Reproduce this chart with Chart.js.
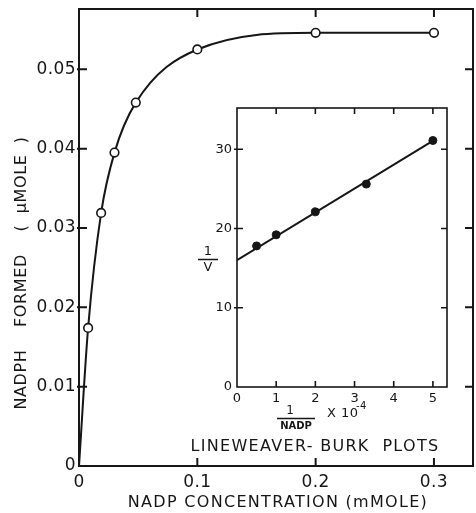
<!DOCTYPE html>
<html lang="en">
<head>
<meta charset="UTF-8">
<title>NADPH formed vs NADP concentration</title>
<script src="https://cdn.jsdelivr.net/npm/chart.js"></script>
<style>
  body { margin: 0; background: #fff; }
  #wrap { position: relative; width: 476px; height: 513px; }
  #mainChart { position: absolute; left: 0; top: 0; }
  #lbChart { position: absolute; left: 190px; top: 100px; }
</style>
</head>
<body>
<div id="wrap">
  <canvas id="mainChart" width="476" height="513"></canvas>
  <canvas id="lbChart" width="276" height="360"></canvas>
</div>
<script>
// main plot: NADPH formed (umole) against NADP concentration (mM)
const nadpConc = [0.0077, 0.0187, 0.030, 0.048, 0.1, 0.2, 0.3];
const nadphFormed = [0.0174, 0.0319, 0.0395, 0.0458, 0.0525, 0.0546, 0.0546];
const mainXTicks = [0, 0.1, 0.2, 0.3];
const mainYTicks = [0, 0.01, 0.02, 0.03, 0.04, 0.05];

// inset: Lineweaver-Burk plot, 1/NADP (x 10^-4) against 1/v
const lbInvS = [0.5, 1, 2, 3.3, 5];
const lbInvV = [17.8, 19.2, 22.1, 25.6, 31.1];
const lbFitX = [0, 5.05];
const lbFitY = [16.0, 31.2];
const lbXTicks = [0, 1, 2, 3, 4, 5];
const lbYTicks = [0, 10, 20, 30];

const ink = '#161616';
const face = '"DejaVu Sans", sans-serif';

// keep the plot area exactly where the layout puts it (no room for overhanging labels)
function noOverhang(s) {
  s.paddingLeft = 0; s.paddingRight = 0;
  s.paddingTop = 0; s.paddingBottom = 0;
}

// box around the plot area with inward tick marks on all four sides
function frameTicks(o) {
  return {
    id: 'frameTicks',
    beforeDraw(chart) {
      chart.ctx.letterSpacing = o.spacing;
    },
    beforeDatasetsDraw(chart) {
      const { ctx, chartArea: a, scales: { x, y } } = chart;
      ctx.save();
      ctx.strokeStyle = ink;
      ctx.lineWidth = o.width;
      ctx.strokeRect(a.left, a.top, a.right - a.left, a.bottom - a.top);
      ctx.beginPath();
      x.ticks.forEach(t => {
        if (t.value === 0) return;
        const px = x.getPixelForValue(t.value);
        ctx.moveTo(px, a.bottom); ctx.lineTo(px, a.bottom - o.len);
        ctx.moveTo(px, a.top); ctx.lineTo(px, a.top + o.len);
      });
      y.ticks.forEach(t => {
        if (t.value === 0) return;
        const py = y.getPixelForValue(t.value);
        ctx.moveTo(a.left - o.out, py); ctx.lineTo(a.left + o.len, py);
        ctx.moveTo(a.right, py); ctx.lineTo(a.right - o.len, py);
      });
      ctx.stroke();
      ctx.restore();
    }
  };
}

const mainLabels = {
  id: 'mainLabels',
  afterDraw(chart) {
    const ctx = chart.ctx;
    ctx.save();
    ctx.fillStyle = ink;
    ctx.textAlign = 'center';
    ctx.textBaseline = 'middle';
    ctx.font = '16px ' + face;
    ctx.letterSpacing = '1.3px';
    ctx.fillText('NADP CONCENTRATION (mMOLE)', 278, 503);
    ctx.letterSpacing = '0.6px';
    ctx.translate(22, 273);
    ctx.rotate(-Math.PI / 2);
    ctx.fillText('NADPH    FORMED    (  \u03bcMOLE  )', 0, 0);
    ctx.restore();
  }
};

const lbLabels = {
  id: 'lbLabels',
  afterDraw(chart) {
    const ctx = chart.ctx;
    ctx.save();
    ctx.fillStyle = ink;
    ctx.strokeStyle = ink;
    ctx.textAlign = 'center';
    ctx.textBaseline = 'middle';
    ctx.letterSpacing = '0px';
    // 1/V
    ctx.font = '13px ' + face;
    ctx.fillText('1', 18, 152);
    ctx.fillText('V', 18, 168);
    ctx.lineWidth = 1.5;
    ctx.beginPath();
    ctx.moveTo(8, 159.5); ctx.lineTo(28, 159.5);
    // 1/NADP x 10^-4
    ctx.moveTo(87, 318.5); ctx.lineTo(125, 318.5);
    ctx.stroke();
    ctx.font = '12px ' + face;
    ctx.fillText('1', 100, 311);
    ctx.font = 'bold 10px ' + face;
    ctx.fillText('NADP', 106, 326);
    ctx.textAlign = 'left';
    ctx.font = '13px ' + face;
    ctx.letterSpacing = '0.5px';
    ctx.fillText('X 10', 137, 314);
    ctx.font = '10px ' + face;
    ctx.fillText('-4', 166, 306);
    // caption
    ctx.textAlign = 'center';
    ctx.font = '16px ' + face;
    ctx.letterSpacing = '1.3px';
    ctx.fillText('LINEWEAVER- BURK  PLOTS', 125, 347);
    ctx.restore();
  }
};

const curve = [{ x: 0, y: 0 }].concat(nadpConc.map((x, i) => ({ x, y: nadphFormed[i] })));

new Chart(document.getElementById('mainChart'), {
  type: 'line',
  data: {
    datasets: [{
      data: curve,
      borderColor: ink,
      borderWidth: 2,
      cubicInterpolationMode: 'monotone',
      pointRadius: c => (c.dataIndex === 0 ? 0 : 4.3),
      pointBackgroundColor: '#fff',
      pointBorderColor: ink,
      pointBorderWidth: 1.6
    }]
  },
  options: {
    responsive: false,
    animation: false,
    devicePixelRatio: 1,
    layout: { autoPadding: false, padding: { top: 9, right: 3, left: 0, bottom: 0 } },
    plugins: { legend: { display: false }, tooltip: { enabled: false } },
    scales: {
      x: {
        type: 'linear', min: 0, max: 0.333,
        afterBuildTicks: s => { s.ticks = mainXTicks.map(v => ({ value: v })); },
        afterFit: s => { s.height = 47; noOverhang(s); },
        grid: { display: false, drawTicks: false },
        border: { display: false },
        ticks: {
          padding: 6, color: ink, autoSkip: false, maxRotation: 0,
          font: { family: face, size: 17 },
          callback: v => (v === 0 ? '0' : v.toFixed(1))
        }
      },
      y: {
        type: 'linear', min: 0, max: 0.0576,
        afterBuildTicks: s => { s.ticks = mainYTicks.map(v => ({ value: v })); },
        afterFit: s => { s.width = 79; noOverhang(s); },
        grid: { display: false, drawTicks: false },
        border: { display: false },
        ticks: {
          padding: 3, color: ink, autoSkip: false,
          font: { family: face, size: 17 },
          callback: v => (v === 0 ? '0' : v.toFixed(2))
        }
      }
    }
  },
  plugins: [frameTicks({ width: 2, len: 8, out: 2, spacing: '0.4px' }), mainLabels]
});

new Chart(document.getElementById('lbChart'), {
  type: 'line',
  data: {
    datasets: [
      {
        data: lbFitX.map((x, i) => ({ x, y: lbFitY[i] })),
        borderColor: ink, borderWidth: 2, pointRadius: 0
      },
      {
        data: lbInvS.map((x, i) => ({ x, y: lbInvV[i] })),
        showLine: false, pointRadius: 4,
        pointBackgroundColor: ink, pointBorderColor: ink
      }
    ]
  },
  options: {
    responsive: false,
    animation: false,
    devicePixelRatio: 1,
    layout: { autoPadding: false, padding: { top: 8, right: 19, left: 0, bottom: 0 } },
    plugins: { legend: { display: false }, tooltip: { enabled: false } },
    scales: {
      x: {
        type: 'linear', min: 0, max: 5.36,
        afterBuildTicks: s => { s.ticks = lbXTicks.map(v => ({ value: v })); },
        afterFit: s => { s.height = 73; noOverhang(s); },
        grid: { display: false, drawTicks: false },
        border: { display: false },
        ticks: {
          padding: 4, color: ink, autoSkip: false, maxRotation: 0,
          font: { family: face, size: 13 }
        }
      },
      y: {
        type: 'linear', min: 0, max: 35.2,
        afterBuildTicks: s => { s.ticks = lbYTicks.map(v => ({ value: v })); },
        afterFit: s => { s.width = 47; noOverhang(s); },
        grid: { display: false, drawTicks: false },
        border: { display: false },
        ticks: {
          padding: 5, color: ink, autoSkip: false,
          font: { family: face, size: 13 }
        }
      }
    }
  },
  plugins: [frameTicks({ width: 1.6, len: 6, out: 3, spacing: '0px' }), lbLabels]
});
</script>
</body>
</html>
